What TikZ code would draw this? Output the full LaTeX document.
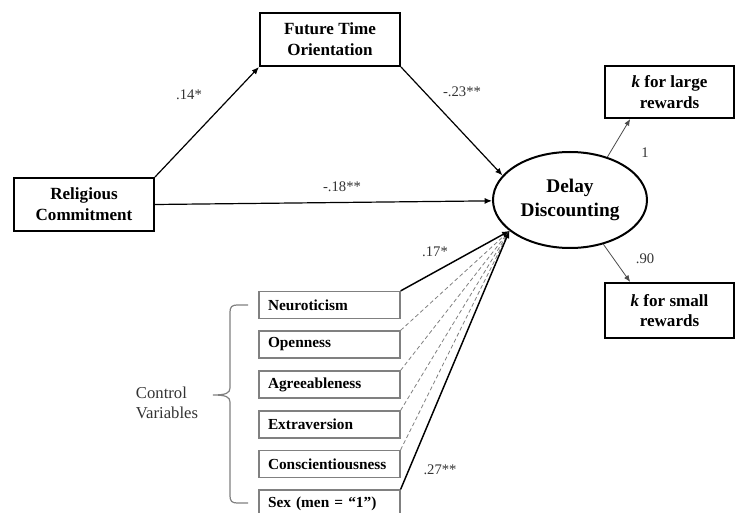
\documentclass[tikz,border=0pt]{standalone}
\usepackage{fontspec}
\setmainfont{Liberation Serif}
\usetikzlibrary{shapes.geometric,calc,arrows.meta}
\definecolor{lab}{HTML}{333333}
\definecolor{ctl}{HTML}{808080}
\begin{document}
\begin{tikzpicture}[x=0.75pt,y=-0.75pt,
  mainbox/.style={draw=black,line width=1.5pt,minimum width=105pt,minimum height=39.75pt,align=center,inner sep=1pt,font=\fontsize{12.8}{15.75}\selectfont\bfseries},
  kbox/.style={draw=black,line width=1.5pt,minimum width=96.75pt,align=center,inner sep=1pt,font=\fontsize{12.8}{15.5}\selectfont\bfseries},
  ctlbox/.style={draw=ctl,line width=0.9pt,minimum height=20.25pt,text width=92.25pt,inner xsep=6.75pt,inner ysep=1pt,align=left,font=\fontsize{11.5}{13}\selectfont\bfseries},
  lbl/.style={text=lab,font=\fontsize{11}{13}\selectfont,inner sep=1pt},
  arr/.style={-{Latex[length=5.5pt,width=4.5pt]},line width=0.9pt},
  karr/.style={-{Latex[length=5pt,width=4pt]},line width=0.6pt,draw=black!70},
  solidc/.style={line width=1.1pt},
  dashc/.style={densely dashed,line width=0.6pt,draw=ctl}]
\clip (0,0) rectangle (735,513);
\useasboundingbox (0,0) rectangle (735,513);
% main nodes
\node[mainbox] (fto) at (330,39.5) {Future Time\\Orientation};
\node[mainbox] (rc) at (84,204.5) {Religious\\Commitment};
\node[draw=black,line width=1.5pt,ellipse,minimum width=115.5pt,minimum height=72pt,inner sep=0pt,align=center,font=\fontsize{14.5}{17.5}\selectfont\bfseries] (dd) at (570,200) {Delay\\Discounting};
\node[kbox,minimum height=39pt] (kl) at (669.5,92) {\textit{k} for large\\rewards};
\node[kbox,minimum height=41.25pt] (ks) at (669.5,310.5) {\textit{k} for small\\rewards};
% control boxes
\node[ctlbox] (neu) at (329.5,305) {Neuroticism};
\node[ctlbox] (ope) at (329.5,344.5) {Openness};
\node[ctlbox] (agr) at (329.5,384.5) {Agreeableness};
\node[ctlbox] (ext) at (329.5,424.5) {Extraversion};
\node[ctlbox] (con) at (329.5,464) {Conscientiousness};
\node[ctlbox] (sex) at (329.5,503.5) {Sex (men = “1”)};
\coordinate (conv) at (dd.207);
% connectors
\draw[arr] (rc.north east) -- (fto.south west);
\draw[arr] (rc.east) -- (dd);
\draw[arr] (fto.south east) -- (dd.160);
\draw[karr] (dd.49) -- ($(kl.south west)!0.2!(kl.south east)$);
\draw[karr] (dd.307) -- ($(ks.north west)!0.2!(ks.north east)$);
\draw[dashc] (ope.north east) -- (conv);
\draw[dashc] (agr.north east) -- (conv);
\draw[dashc] (ext.north east) -- (conv);
\draw[dashc] (con.north east) -- (conv);
\draw[arr,solidc] (neu.north east) -- (conv);
\draw[arr,solidc] (sex.north east) -- (conv);
% labels
\node[lbl] (l14) at (189,95) {.14*};
\node[lbl] (l18) at (342,187) {-.18**};
\node[lbl] (l23) at (462,92) {-.23**};
\node[lbl] (l1) at (645,153) {1};
\node[lbl] (l90) at (645,259) {.90};
\node[lbl] (l17) at (435,252) {.17*};
\node[lbl] (l27) at (440,470) {.27**};
% brace
\draw[ctl,line width=0.9pt] (248,305) -- (237,305) .. controls (232,305) and (230,307) .. (230,312)
  -- (230,388) .. controls (230,393) and (226,395) .. (213,395)
  .. controls (226,395) and (230,397) .. (230,402)
  -- (230,496) .. controls (230,501) and (232,503) .. (237,503) -- (248,503);
\node[text=lab,align=left,font=\fontsize{12.5}{15}\selectfont,inner sep=0pt] (cv) at (167,403) {Control\\Variables};
\end{tikzpicture}
\end{document}
